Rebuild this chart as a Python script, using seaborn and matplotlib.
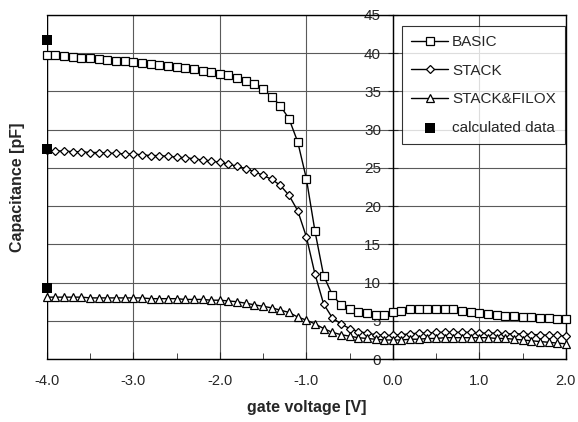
import numpy as np
import pandas as pd
import matplotlib
matplotlib.use('Agg')
import matplotlib.pyplot as plt
import seaborn as sns

# gate voltage grid, -4.0 .. 2.0 V in 0.1 V steps
voltage = np.round(np.arange(-4.0, 2.05, 0.1), 1)

basic = [39.8, 39.7, 39.6, 39.5, 39.4, 39.3, 39.2, 39.1, 39.0, 38.9,
         38.8, 38.7, 38.6, 38.5, 38.3, 38.2, 38.0, 37.9, 37.7, 37.5,
         37.3, 37.1, 36.8, 36.4, 35.9, 35.3, 34.3, 33.1, 31.4, 28.4,
         23.6, 16.7, 10.9, 8.4, 7.1, 6.5, 6.2, 6.0, 5.8, 5.8,
         6.1, 6.3, 6.5, 6.5, 6.6, 6.6, 6.6, 6.5, 6.3, 6.1,
         6.0, 5.9, 5.8, 5.7, 5.6, 5.5, 5.5, 5.4, 5.4, 5.3, 5.3]

stack = [27.3, 27.2, 27.2, 27.1, 27.1, 27.0, 27.0, 26.9, 26.9, 26.8,
         26.8, 26.7, 26.6, 26.6, 26.5, 26.4, 26.3, 26.2, 26.0, 25.9,
         25.7, 25.5, 25.2, 24.9, 24.5, 24.0, 23.5, 22.7, 21.4, 19.4,
         16.0, 11.1, 7.2, 5.4, 4.6, 4.0, 3.6, 3.4, 3.2, 3.1,
         3.1, 3.2, 3.3, 3.4, 3.4, 3.5, 3.5, 3.5, 3.5, 3.5,
         3.4, 3.4, 3.4, 3.3, 3.3, 3.3, 3.2, 3.2, 3.1, 3.1, 3.0]

stack_filox = [8.1, 8.1, 8.1, 8.1, 8.1, 8.0, 8.0, 8.0, 8.0, 8.0,
               8.0, 8.0, 7.9, 7.9, 7.9, 7.9, 7.8, 7.8, 7.8, 7.7,
               7.7, 7.6, 7.5, 7.3, 7.1, 6.9, 6.7, 6.4, 6.1, 5.5,
               5.1, 4.6, 4.0, 3.5, 3.2, 3.0, 2.8, 2.7, 2.6, 2.5,
               2.5, 2.5, 2.6, 2.6, 2.7, 2.7, 2.8, 2.8, 2.8, 2.8,
               2.8, 2.8, 2.7, 2.7, 2.6, 2.5, 2.4, 2.3, 2.2, 2.1, 2.0]

calc_x = [-4.0, -4.0, -4.0]
calc_y = [41.7, 27.5, 9.3]

sns.set_style('ticks')
plt.rcParams['font.family'] = ['Liberation Sans', 'DejaVu Sans']

fig = plt.figure(figsize=(5.78, 4.22), dpi=100)
ax = fig.add_axes([0.081, 0.149, 0.898, 0.816])

line_kw = dict(color='black', linewidth=1.0, clip_on=False, zorder=3)
sns.lineplot(x=voltage, y=basic, ax=ax, label='BASIC', marker='s', markersize=5.2,
             markerfacecolor='white', markeredgecolor='black', markeredgewidth=0.9, **line_kw)
sns.lineplot(x=voltage, y=stack, ax=ax, label='STACK', marker='D', markersize=3.8,
             markerfacecolor='white', markeredgecolor='black', markeredgewidth=0.9, **line_kw)
sns.lineplot(x=voltage, y=stack_filox, ax=ax, label='STACK&FILOX', marker='^', markersize=5.8,
             markerfacecolor='white', markeredgecolor='black', markeredgewidth=0.9, **line_kw)
sns.scatterplot(x=calc_x, y=calc_y, ax=ax, label='calculated data', marker='s', s=55,
                color='black', linewidth=0, clip_on=False, zorder=4)

ax.set_xlim(-4, 2)
ax.set_ylim(0, 45)
ax.set_xticks(np.arange(-4, 2.5, 1))
ax.set_xticklabels([f'{v:.1f}' for v in np.arange(-4, 2.5, 1)])
ax.set_xticks(np.arange(-4, 2.5, 0.5), minor=True)
ax.set_yticks(np.arange(0, 50, 5))
ax.tick_params(axis='x', which='both', direction='in', labelsize=10.5, pad=11, length=5)
ax.tick_params(axis='x', which='minor', length=4)
ax.tick_params(axis='y', direction='inout', length=7, labelsize=11, pad=5)
ax.grid(True, which='major', color='#5a5a5a', linewidth=0.8)
for s in ax.spines.values():
    s.set_color('black')
    s.set_linewidth(1.0)

# y axis runs through gate voltage 0; keep the frame edge at -4 V
ax.spines['left'].set_position(('data', 0))
ax.axvline(-4, color='black', linewidth=1.0, zorder=2.5)

ax.set_xlabel('gate voltage [V]', fontsize=11.5, fontweight='bold', labelpad=8)
ax.set_ylabel('Capacitance [pF]', fontsize=11.5, fontweight='bold')
ax.yaxis.set_label_coords(-0.042, 0.5)

leg = ax.legend(loc='upper right', bbox_to_anchor=(0.998, 0.967), borderaxespad=0,
                fontsize=11, frameon=True, fancybox=False, edgecolor='black',
                handlelength=2.4, handletextpad=0.25, labelspacing=0.95, borderpad=0.6)
leg.get_frame().set_linewidth(0.8)
leg.set_zorder(5)

plt.savefig('out.png', dpi=100)
